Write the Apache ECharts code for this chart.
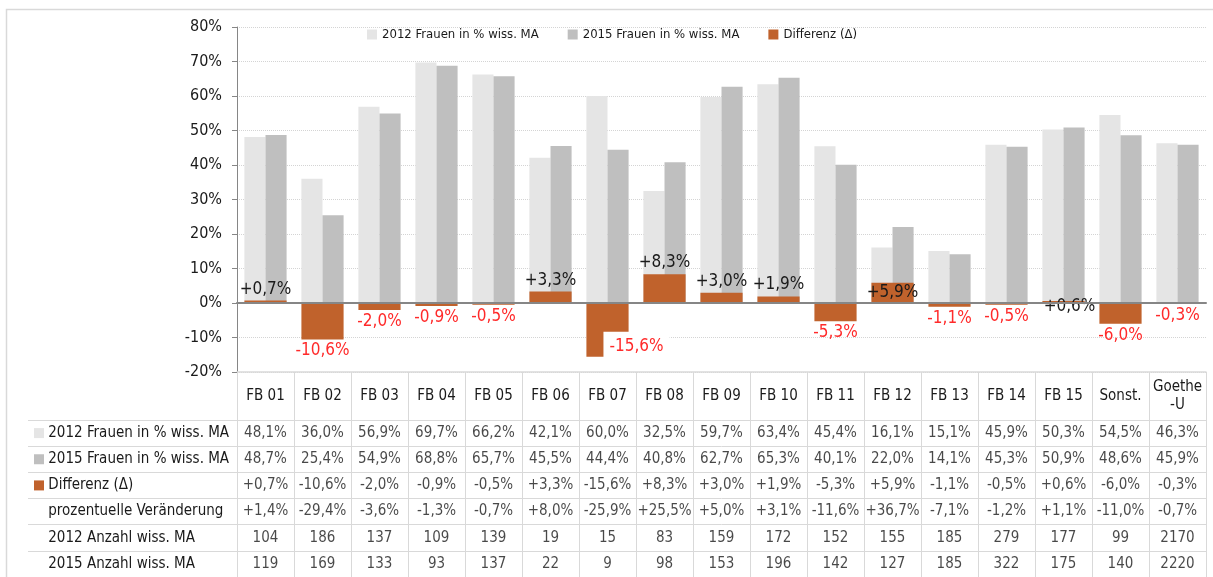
<!DOCTYPE html>
<html>
<head>
<meta charset="utf-8">
<title>Frauen in % wiss. MA 2012 / 2015</title>
<script src="https://cdn.jsdelivr.net/npm/echarts@6/dist/echarts.min.js"></script>
<style>
  html, body { margin: 0; padding: 0; background: #fff; }
  #chart { width: 1213px; height: 577px; }
</style>
</head>
<body>
<div id="chart"></div>
<script>
var categories = ['FB 01', 'FB 02', 'FB 03', 'FB 04', 'FB 05', 'FB 06', 'FB 07', 'FB 08', 'FB 09',
  'FB 10', 'FB 11', 'FB 12', 'FB 13', 'FB 14', 'FB 15', 'Sonst.', 'Goethe\n-U'];
var frauen2012 = [48.1, 36.0, 56.9, 69.7, 66.2, 42.1, 60.0, 32.5, 59.7, 63.4, 45.4, 16.1, 15.1, 45.9, 50.3, 54.5, 46.3];
var frauen2015 = [48.7, 25.4, 54.9, 68.8, 65.7, 45.5, 44.4, 40.8, 62.7, 65.3, 40.1, 22.0, 14.1, 45.3, 50.9, 48.6, 45.9];
var differenz = [0.7, -10.6, -2.0, -0.9, -0.5, 3.3, -15.6, 8.3, 3.0, 1.9, -5.3, 5.9, -1.1, -0.5, 0.6, -6.0, -0.3];
var veraenderung = [1.4, -29.4, -3.6, -1.3, -0.7, 8.0, -25.9, 25.5, 5.0, 3.1, -11.6, 36.7, -7.1, -1.2, 1.1, -11.0, -0.7];
var anzahl2012 = [104, 186, 137, 109, 139, 19, 15, 83, 159, 172, 152, 155, 185, 279, 177, 99, 2170];
var anzahl2015 = [119, 169, 133, 93, 137, 22, 9, 98, 153, 196, 142, 127, 185, 322, 175, 140, 2220];
var rowNames = ['2012 Frauen in % wiss. MA', '2015 Frauen in % wiss. MA', 'Differenz (\u0394)',
  'prozentuelle Ver\u00e4nderung', '2012 Anzahl wiss. MA', '2015 Anzahl wiss. MA'];

var FONT = "'Liberation Sans Narrow', 'DejaVu Sans Condensed', 'Roboto Condensed', Roboto, sans-serif";
var C2012 = '#e5e5e5', C2015 = '#bfbfbf', CDIFF = '#c0622c';
var GRID = '#d9d9d9', AXIS = '#868686', TXT = '#1a1a1a', RED = '#ff2a2a';

function pct(v, sign) {
  var s = v.toFixed(1).replace('.', ',');
  if (sign && v > 0) s = '+' + s;
  return s + '%';
}

// ein paar Labels sind im Original von Hand verschoben
var labelTweaks = {
  6: { offset: [29, -28], backgroundColor: '#fff', padding: [6, 6] },
  11: { position: 'inside' },
  14: { position: 'bottom', offset: [6, -8] }
};

var diffData = differenz.map(function (v, i) {
  var lbl = { position: v < 0 ? 'bottom' : 'top', color: v < 0 ? RED : TXT };
  var t = labelTweaks[i];
  if (t) for (var k in t) lbl[k] = t[k];
  return { value: v, label: lbl };
});

// Tabelle unter dem Diagramm
var tableRows = [
  frauen2012.map(function (v) { return pct(v, false); }),
  frauen2015.map(function (v) { return pct(v, false); }),
  differenz.map(function (v) { return pct(v, true); }),
  veraenderung.map(function (v) { return pct(v, true); }),
  anzahl2012.map(String),
  anzahl2015.map(String)
];
var tableCells = [];
tableRows.forEach(function (row, r) {
  row.forEach(function (txt, c) { tableCells.push([c, r, txt]); });
});

var chart = echarts.init(document.getElementById('chart'));
var option = {
  animation: false,
  textStyle: { fontFamily: FONT, color: TXT },
  graphic: [{
    type: 'rect', silent: true,
    shape: { x: 6.5, y: 9.5, width: 1400, height: 800 },
    style: { fill: 'none', stroke: GRID, lineWidth: 1.5 }
  }],
  legend: {
    data: ['2012 Frauen in % wiss. MA', '2015 Frauen in % wiss. MA', 'Differenz (\u0394)'],
    left: 367, top: 28, padding: 0,
    icon: 'rect', itemWidth: 10, itemHeight: 10, itemGap: 29,
    textStyle: { fontFamily: FONT, fontSize: 13, color: TXT },
    selectedMode: false
  },
  grid: [
    { left: 237, right: 7, top: 27, bottom: 205 },
    { left: 237, right: 7, top: 420, height: 161 }
  ],
  xAxis: [
    {
      type: 'category', gridIndex: 0, data: categories, position: 'bottom',
      axisLine: { onZero: false, lineStyle: { color: GRID, width: 1.5 } },
      axisTick: { show: false }, axisLabel: { show: false }
    },
    {
      type: 'category', gridIndex: 0, data: categories, position: 'top', z: 5,
      axisLine: { onZero: true, lineStyle: { color: AXIS, width: 2 } },
      axisTick: { show: false }, axisLabel: { show: false }
    },
    {
      type: 'category', gridIndex: 1, data: categories, position: 'top',
      axisLine: { lineStyle: { color: GRID } },
      axisTick: { show: true, interval: 0, length: 48, lineStyle: { color: GRID } },
      axisLabel: { interval: 0, margin: 24, verticalAlign: 'middle', fontSize: 15, lineHeight: 18, color: TXT, fontFamily: FONT },
      splitLine: { show: true, interval: 0, lineStyle: { color: GRID } }
    }
  ],
  yAxis: [
    {
      type: 'value', gridIndex: 0, min: -20, max: 80, interval: 10,
      axisLine: { show: true, lineStyle: { color: AXIS } },
      axisTick: { show: true, length: 5, lineStyle: { color: AXIS } },
      axisLabel: { formatter: '{value}%', fontSize: 16, margin: 15, color: TXT, fontFamily: FONT },
      splitLine: { lineStyle: { color: '#d4d4d4', type: 'dotted' } }
    },
    {
      type: 'category', gridIndex: 1, data: rowNames, inverse: true,
      axisLine: { show: true, lineStyle: { color: GRID } },
      axisTick: { show: true, interval: 0, length: 209, lineStyle: { color: GRID } },
      axisLabel: {
        interval: 0, align: 'left', margin: 203, fontSize: 15, color: TXT, fontFamily: FONT,
        formatter: function (val, idx) { return '{i' + idx + '|} ' + val; },
        rich: {
          i0: { width: 10, height: 10, backgroundColor: C2012 },
          i1: { width: 10, height: 10, backgroundColor: C2015 },
          i2: { width: 10, height: 10, backgroundColor: CDIFF },
          i3: { width: 10, height: 10 },
          i4: { width: 10, height: 10 },
          i5: { width: 10, height: 10 }
        }
      },
      splitLine: { show: true, interval: 0, lineStyle: { color: GRID } }
    },
    {
      type: 'category', gridIndex: 1, data: rowNames, inverse: true, offset: 209,
      axisLine: { show: true, lineStyle: { color: GRID } },
      axisTick: { show: false }, axisLabel: { show: false }, splitLine: { show: false }
    }
  ],
  series: [
    {
      name: '2012 Frauen in % wiss. MA', type: 'bar', xAxisIndex: 0, yAxisIndex: 0,
      data: frauen2012, barGap: '0%', barCategoryGap: '26%',
      itemStyle: { color: C2012 }
    },
    {
      name: '2015 Frauen in % wiss. MA', type: 'bar', xAxisIndex: 0, yAxisIndex: 0,
      data: frauen2015, barGap: '0%', barCategoryGap: '26%',
      itemStyle: { color: C2015 }
    },
    {
      name: 'Differenz (\u0394)', type: 'bar', xAxisIndex: 1, yAxisIndex: 0,
      data: diffData, barWidth: '74%',
      itemStyle: { color: CDIFF },
      label: {
        show: true, distance: 3, fontSize: 17, fontFamily: FONT,
        formatter: function (p) { return pct(p.value, true); }
      }
    },
    {
      name: 'Tabelle', type: 'scatter', xAxisIndex: 2, yAxisIndex: 1,
      data: tableCells, symbolSize: 1, silent: true,
      itemStyle: { color: 'rgba(0,0,0,0)' },
      label: {
        show: true, position: 'inside', fontSize: 15, color: TXT, fontFamily: FONT,
        formatter: function (p) { return p.value[2]; }
      }
    }
  ]
};
chart.setOption(option);
</script>
</body>
</html>
